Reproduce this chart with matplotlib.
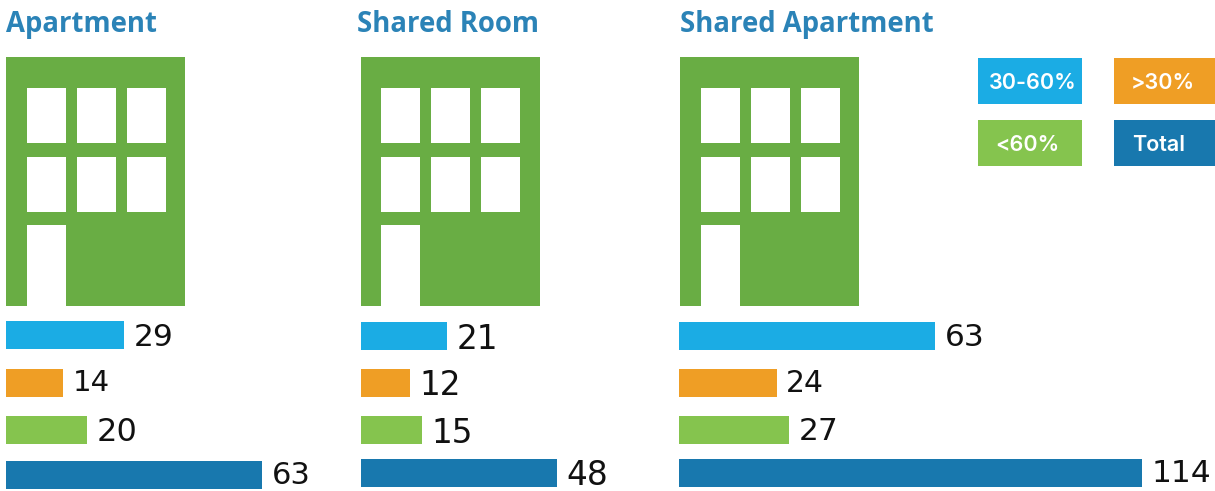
import matplotlib
matplotlib.use("Agg")
import matplotlib.pyplot as plt
from matplotlib.patches import Rectangle

W, H = 1215, 491
titles = ["Apartment", "Shared Room", "Shared Apartment"]
apartment = [29, 14, 20, 63]
shared_room = [21, 12, 15, 48]
shared_apartment = [63, 24, 27, 114]
legend_labels = ["30-60%", ">30%", "<60%", "Total"]
colors = ["#1BACE4", "#EF9E25", "#85C44E", "#1878AE"]
GREEN = "#69AD44"
TITLE = "#2B83B7"
TEXT = "#111111"

fig = plt.figure(figsize=(W/100, H/100), dpi=100)
ax = fig.add_axes([0, 0, 1, 1])
ax.set_xlim(0, W); ax.set_ylim(H, 0); ax.axis("off")

def rect(x, y, w, h, c):
    ax.add_patch(Rectangle((x, y), w, h, fc=c, ec="none"))

def building(x, cols):
    rect(x, 57, 179, 249, GREEN)
    for wx in cols:
        for wy, wh in ((88, 55), (157, 55)):
            rect(x + wx, wy, 39, wh, "white")
    rect(x + cols[0], 225, 39, 81, "white")

panels = [
    (6, 6, 6, apartment, 4.07, [321, 369, 416, 461], [21, 71, 121],
     [22.5, 21, 23, 22], [-1, -3, -1, -2]),
    (361, 357, 361, shared_room, 4.09, [322, 369, 416, 459], [20, 70, 120],
     [23.5, 23.5, 23.5, 23.5], [0, -1, 0, -1]),
    (680, 680, 680, shared_apartment, 4.065, [322, 369, 416, 459], [21, 71, 121],
     [22.5, 21.5, 22.5, 22.5], [-1, -3, -1, -2]),
]
for (bx, tx, barx, vals, sc, ys, cols, sizes, dys), title in zip(panels, titles):
    ax.text(tx, 24, title, color=TITLE, fontsize=19.8, fontweight="bold",
            family="Open Sans", va="center", ha="left")
    building(bx, cols)
    for v, y, c, s, dy in zip(vals, ys, colors, sizes, dys):
        x0 = barx - (1 if bx == 680 else 0)
        rect(x0, y, v * sc, 28, c)
        ax.text(x0 + v * sc + 9.5, y + 14 + dy, str(v), fontsize=s,
                color=TEXT, family="DejaVu Sans", va="center_baseline", ha="left")

leg = [(978, 58, 104, 46, 989), (1114, 58, 101, 46, 1131), (978, 120, 104, 46, 995), (1114, 120, 101, 46, 1132)]
for (x, y, w, h, tx), lab, c in zip(leg, legend_labels, colors):
    rect(x, y, w, h, c)
    ax.text(tx, y + h / 2, lab, color="white", fontsize=15.5,
            fontweight="semibold", family="Inter", va="center_baseline", ha="left")

fig.savefig("out.png", dpi=100)
